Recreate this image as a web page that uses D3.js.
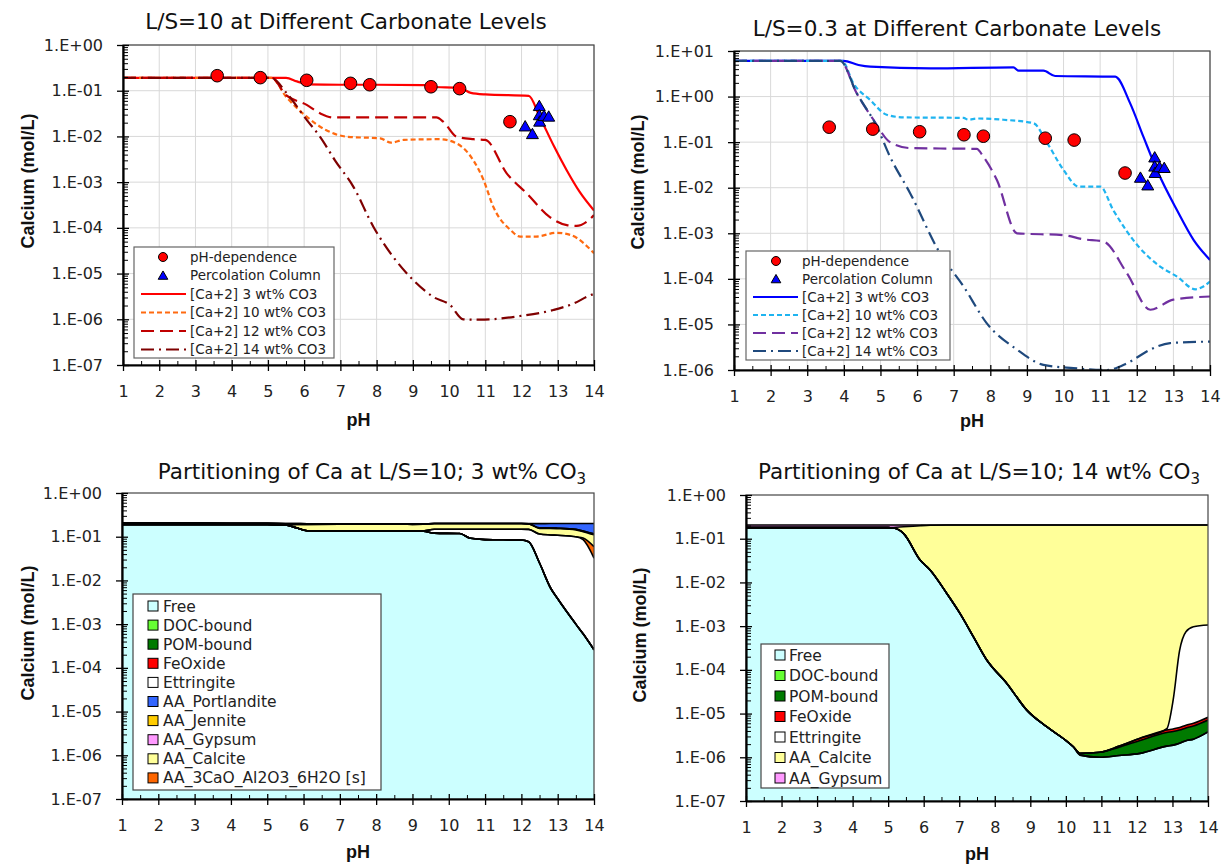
<!DOCTYPE html>
<html><head><meta charset="utf-8">
<script src="https://cdn.jsdelivr.net/npm/d3@7"></script>
<style>body{margin:0;background:#fff} svg{display:block}</style>
</head><body>
<svg id="c" width="1224" height="865"></svg>
<script>
// ---------------- tick labels ----------------
const phTicks = [1,2,3,4,5,6,7,8,9,10,11,12,13,14];
const phTickLabels = ["1","2","3","4","5","6","7","8","9","10","11","12","13","14"];
const yTicksA = [1e-7,1e-6,1e-5,1e-4,1e-3,1e-2,1e-1,1];
const yTickLabelsA = ["1.E-07","1.E-06","1.E-05","1.E-04","1.E-03","1.E-02","1.E-01","1.E+00"];
const yTicksB = [1e-6,1e-5,1e-4,1e-3,1e-2,1e-1,1,10];
const yTickLabelsB = ["1.E-06","1.E-05","1.E-04","1.E-03","1.E-02","1.E-01","1.E+00","1.E+01"];

// ---------------- measured points (both top panels) ----------------
const phDep_pH = [3.60, 4.79, 6.07, 7.28, 7.81, 9.50, 10.29, 11.68];
const phDep_Ca = [0.213, 0.193, 0.169, 0.145, 0.135, 0.122, 0.111, 0.021];
const perc_pH = [12.10, 12.30, 12.49, 12.49, 12.50, 12.62, 12.75];
const perc_Ca = [0.0165, 0.0112, 0.046, 0.029, 0.021, 0.028, 0.027];

// ---------------- L/S = 10 model curves ----------------
const ls10_pH_3  = [1, 5.5, 5.8, 6.1, 7, 8, 9.3, 9.5, 10.3, 10.6, 11, 12.2, 12.5, 12.9, 13.25, 13.6, 14];
const ls10_Ca_3  = [0.19, 0.19, 0.16, 0.138, 0.135, 0.135, 0.133, 0.122, 0.115, 0.09, 0.083, 0.077, 0.027, 0.006, 0.0018, 0.00062, 0.00024];
const ls10_pH_10 = [1, 5.1, 5.5, 6.07, 6.6, 7.2, 8.1, 8.4, 8.75, 9.75, 10.2, 10.67, 10.95, 11.22, 11.7, 11.96, 12.4, 12.97, 13.35, 14];
const ls10_Ca_10 = [0.19, 0.19, 0.074, 0.027, 0.0138, 0.0098, 0.0091, 0.0073, 0.0084, 0.0087, 0.0071, 0.003, 0.00112, 0.00029, 0.000089, 0.0000645, 0.0000645, 0.000078, 0.00007, 0.000028];
const ls10_pH_12 = [1, 5.1, 5.5, 6.07, 6.44, 6.8, 9.65, 9.84, 10.21, 10.67, 11.0, 11.59, 12.14, 12.79, 13.25, 13.52, 13.8, 14];
const ls10_Ca_12 = [0.19, 0.19, 0.08, 0.049, 0.032, 0.026, 0.026, 0.021, 0.0098, 0.0087, 0.0084, 0.00156, 0.00057, 0.00017, 0.000115, 0.00011, 0.000136, 0.00019];
const ls10_pH_14 = [1, 5.1, 5.52, 6.07, 6.44, 6.85, 7.36, 7.91, 8.46, 9.01, 9.56, 10.03, 10.39, 10.85, 11.96, 12.88, 13.43, 13.84, 14];
const ls10_Ca_14 = [0.19, 0.19, 0.0877, 0.023, 0.0098, 0.003, 0.00079, 0.000106, 0.000023, 0.0000072, 0.0000031, 0.00000205, 0.000001, 0.00000098, 0.00000118, 0.0000016, 0.0000022, 0.0000032, 0.0000036];

// ---------------- L/S = 0.3 model curves ----------------
const ls03_pH_3  = [1, 3.99, 4.4, 4.72, 6.36, 8.63, 8.77, 9.45, 9.77, 11.41, 11.82, 12.18, 12.55, 13.1, 13.55, 14];
const ls03_Ca_3  = [6.1, 6.1, 4.93, 4.53, 4.17, 4.39, 3.7, 3.7, 2.83, 2.74, 0.71, 0.132, 0.0245, 0.0032, 0.00072, 0.00026];
const ls03_pH_10 = [1, 3.95, 4.26, 4.72, 5.17, 5.63, 7.27, 7.4, 7.63, 8.36, 9.18, 9.54, 10.0, 10.41, 11.0, 11.36, 12.05, 12.64, 13.1, 13.6, 13.82, 14];
const ls03_Ca_10 = [6.1, 6.1, 1.95, 0.84, 0.40, 0.35, 0.34, 0.31, 0.33, 0.31, 0.26, 0.10, 0.0245, 0.0106, 0.0106, 0.0032, 0.00051, 0.000186, 0.000112, 0.000059, 0.000068, 0.000087];
const ls03_pH_12 = [1, 3.9, 4.35, 4.81, 5.26, 5.81, 7.63, 7.81, 8.18, 8.73, 10.0, 10.54, 11.09, 11.73, 12.37, 13.0, 14];
const ls03_Ca_12 = [6.1, 6.1, 1.18, 0.31, 0.10, 0.074, 0.071, 0.048, 0.0147, 0.001, 0.00091, 0.00074, 0.00066, 0.000133, 0.000021, 0.000035, 0.000041];
const ls03_pH_14 = [1, 3.9, 4.35, 4.9, 5.26, 5.81, 6.63, 7.27, 7.9, 8.73, 9.45, 10.27, 11.18, 11.73, 12.37, 12.91, 14];
const ls03_Ca_14 = [6.1, 6.1, 1.2, 0.22, 0.048, 0.0076, 0.00036, 0.000068, 0.0000107, 0.0000028, 0.0000013, 0.0000011, 0.000001, 0.0000014, 0.0000028, 0.0000039, 0.0000042];

// ---------------- Partitioning, 3 wt% CO3 ----------------
const p3_pH          = [1, 2, 3, 4, 5, 5.5, 5.8, 6.1, 7, 8, 9, 9.3, 9.6, 10.3, 10.6, 11, 11.5, 12, 12.2, 12.5, 12.8, 13, 13.5, 13.7, 14];
const p3_Free        = [0.192,0.192,0.192,0.191,0.19,0.185,0.16,0.137,0.135,0.135,0.134,0.133,0.121,0.118,0.092,0.086,0.085,0.084,0.077,0.025,0.0068,0.0038,0.001,0.0006,0.00026];
const p3_DOC         = [0,0,0,0,0,0,0,0,0,0,0,0,0,0,0,0,0,0,0,0,0,0,0,0,0];
const p3_POM         = [0,0,0,0,0,0,0,0,0,0,0,0,0,0,0,0,0,0,0,0,0,0,0,0,0];
const p3_FeOxide     = [0,0,0,0,0,0,0,0,0,0,0,0,0,0,0,0,0,0,0,0,0,0,0,0,0];
const p3_Ettringite  = [0,0,0,0,0,0,0,0,0,0,0,0.002,0.027,0.03,0.056,0.062,0.063,0.064,0.07,0.09,0.103,0.104,0.099,0.085,0.032];
const p3_3CaO        = [0,0,0,0,0,0,0,0,0,0,0,0,0,0,0,0,0,0,0,0,0,0,0,0.008,0.027];
const p3_Calcite     = [0,0,0,0,0,0.003,0.03,0.055,0.058,0.058,0.058,0.058,0.052,0.052,0.052,0.052,0.052,0.052,0.05,0.04,0.045,0.045,0.043,0.037,0.051];
const p3_Jennite     = [0,0,0,0,0,0,0,0,0,0,0,0,0,0,0,0,0,0,0,0.004,0.004,0.004,0.005,0.005,0.006];
const p3_Gypsum      = [0.015,0.015,0.015,0.015,0.015,0.013,0.01,0.006,0.005,0.005,0.005,0.004,0,0,0,0,0,0,0,0,0,0,0,0,0];
const p3_Portlandite = [0,0,0,0,0,0,0,0,0,0,0,0,0,0,0,0,0,0,0.003,0.04,0.041,0.043,0.052,0.065,0.084];

// ---------------- Partitioning, 14 wt% CO3 ----------------
const p4_pH         = [1, 2, 3, 4, 5, 5.15, 5.43, 5.9, 6.18, 6.65, 7.02, 7.4, 7.77, 8.34, 8.9, 9.46, 9.98, 10.21, 10.4, 10.96, 11.5, 12.09, 12.84, 13.02, 13.2, 13.38, 13.59, 14];
const p4_Free       = [0.179,0.179,0.179,0.179,0.179,0.176,0.133,0.0326,0.0192,0.0056,0.00196,0.00057,0.00017,0.000049,0.000012,0.000005,0.0000025,0.00000174,0.00000112,0.000001,0.0000011,0.00000123,0.0000018,0.0000019,0.0000021,0.0000024,0.0000026,0.0000038];
const p4_DOC        = [0,0,0,0,0,0,0,0,0,0,0,0,0,0,0,0,0,0,0,0,0,0,0,0,0,0,0,0];
const p4_POM        = [0,0,0,0,0,0,0,0,0,0,0,0,0,0,0,0,0,0,0.00000011,0.0000003,0.0000006,0.0000012,0.0000019,0.000002,0.0000021,0.0000023,0.0000026,0.0000033];
const p4_FeOxide    = [0,0,0,0,0,0,0,0,0,0,0,0,0,0,0,0,0,0,0,0,0.0000001,0.0000003,0.0000005,0.00000055,0.0000006,0.0000007,0.0000008,0.0000011];
const p4_Ettringite = [0,0,0,0,0,0,0,0,0,0,0,0,0,0,0,0,0,0,0,0,0,0,0.0000003,0.000016,0.00027,0.00074,0.00096,0.00105];
const p4_Calcite    = [0,0,0,0,0,0.005,0.055,0.166,0.184,0.2,0.204,0.205,0.206,0.206,0.206,0.206,0.206,0.206,0.206,0.206,0.206,0.206,0.206,0.206,0.205,0.205,0.205,0.205];
const p4_Gypsum     = [0.027,0.027,0.027,0.027,0.027,0.025,0.018,0.007,0.003,0.001,0,0,0,0,0,0,0,0,0,0,0,0,0,0,0,0,0,0];

// ---------------- helpers ----------------
const svg = d3.select("#c");
const FONT = "'DejaVu Sans', Verdana, sans-serif";
const BOLD = "'Liberation Sans', Arial, sans-serif";
let clipId = 0;

function frame(cfg) {
  const x = d3.scaleLinear().domain([1, 14]).range([cfg.x0, cfg.x1]);
  const y = d3.scaleLog().domain(cfg.yDom).range([cfg.yBot, cfg.yTop]).clamp(true);
  const g = svg.append("g");
  g.append("rect").attr("x", cfg.x0).attr("y", cfg.yTop)
    .attr("width", cfg.x1 - cfg.x0).attr("height", cfg.yBot - cfg.yTop).attr("fill", "#fff");
  if (cfg.grid) {
    g.append("g").selectAll("line").data(phTicks.slice(1)).join("line")
      .attr("x1", d => x(d)).attr("x2", d => x(d)).attr("y1", cfg.yTop).attr("y2", cfg.yBot)
      .attr("stroke", "#d9d9d9").attr("stroke-width", 1);
    g.append("g").selectAll("line").data(cfg.yVals.slice(1)).join("line")
      .attr("x1", cfg.x0).attr("x2", cfg.x1).attr("y1", d => y(d)).attr("y2", d => y(d))
      .attr("stroke", "#d9d9d9").attr("stroke-width", 1);
  }
  const id = "clip" + (clipId++);
  svg.append("clipPath").attr("id", id).append("rect")
    .attr("x", cfg.x0).attr("y", cfg.yTop).attr("width", cfg.x1 - cfg.x0).attr("height", cfg.yBot - cfg.yTop);
  const content = svg.append("g").attr("clip-path", `url(#${id})`);
  return { x, y, g, content };
}

function axes(cfg, x, y) {
  const g = svg.append("g");
  g.append("rect").attr("x", cfg.x0).attr("y", cfg.yTop)
    .attr("width", cfg.x1 - cfg.x0).attr("height", cfg.yBot - cfg.yTop)
    .attr("fill", "none").attr("stroke", "#444").attr("stroke-width", 1.2);
  // minor y ticks
  const minor = [];
  for (let e = Math.round(Math.log10(cfg.yDom[0])); e < Math.round(Math.log10(cfg.yDom[1])); e++)
    for (let k = 2; k <= 9; k++) minor.push(k * Math.pow(10, e));
  g.append("g").attr("transform", `translate(${cfg.x0},0)`)
    .call(d3.axisRight(y).tickValues(minor).tickSize(5).tickFormat(""))
    .call(s => s.select(".domain").remove())
    .selectAll("line").attr("stroke", "#000").attr("stroke-width", 1);
  // major y ticks + labels
  const ya = g.append("g").attr("transform", `translate(${cfg.x0},0)`)
    .call(d3.axisLeft(y).tickValues(cfg.yVals).tickFormat((d, i) => cfg.yLabels[i]).tickSize(6).tickSizeOuter(0).tickPadding(14));
  ya.select(".domain").attr("stroke-width", 2.2);
  ya.selectAll(".tick line").attr("x1", 6).attr("stroke-width", 1.3);
  ya.selectAll("text").attr("font-family", FONT).attr("font-size", 16).attr("fill", "#222");
  // minor x ticks
  const minorX = phTicks.slice(0, -1).map(d => d + 0.5);
  g.append("g").attr("transform", `translate(0,${cfg.yBot})`)
    .call(d3.axisBottom(x).tickValues(minorX).tickSize(-4).tickFormat(""))
    .call(s => s.select(".domain").remove())
    .selectAll("line").attr("stroke", "#000").attr("stroke-width", 1);
  const xa = g.append("g").attr("transform", `translate(0,${cfg.yBot})`)
    .call(d3.axisBottom(x).tickValues(phTicks).tickFormat((d, i) => phTickLabels[i]).tickSize(6).tickSizeOuter(0));
  xa.select(".domain").attr("stroke-width", 2.2);
  xa.selectAll(".tick line").attr("y1", -5).attr("stroke-width", 1.3);
  xa.selectAll("text").attr("y", 32).attr("dy", 0).attr("font-family", FONT).attr("font-size", 16).attr("fill", "#222");
  // axis titles
  svg.append("text").attr("x", (cfg.x0 + cfg.x1) / 2).attr("y", cfg.yBot + cfg.pHdy)
    .attr("text-anchor", "middle").attr("font-family", BOLD).attr("font-weight", "bold")
    .attr("font-size", 18).attr("fill", "#111").text("pH");
  svg.append("text").attr("transform", `translate(${cfg.yTitleX},${cfg.yTitleY}) rotate(-90)`)
    .attr("text-anchor", "middle").attr("dy", "0.35em").attr("font-family", BOLD).attr("font-weight", "bold")
    .attr("font-size", 18).attr("fill", "#111").text("Calcium (mol/L)");
  // title
  const t = svg.append("text").attr("x", cfg.titleX).attr("y", cfg.titleY).attr("text-anchor", "middle")
    .attr("font-family", FONT).attr("font-size", 21.5).attr("fill", "#111");
  t.append("tspan").text(cfg.title);
  if (cfg.titleSub) t.append("tspan").attr("dy", 5).attr("font-size", 15).text(cfg.titleSub);
}

// ---------------- line panels ----------------
function linePanel(cfg, series, legendCfg) {
  const { x, y, content } = frame(cfg);
  const line = d3.line().x(d => x(d[0])).y(d => y(d[1])).curve(d3.curveMonotoneX);
  series.forEach(s => {
    content.append("path").datum(d3.zip(s.ph, s.ca)).attr("d", line)
      .attr("fill", "none").attr("stroke", s.color).attr("stroke-width", s.w)
      .attr("stroke-dasharray", s.dash);
  });
  content.append("g").selectAll("circle").data(d3.zip(phDep_pH, phDep_Ca)).join("circle")
    .attr("cx", d => x(d[0])).attr("cy", d => y(d[1])).attr("r", 6.3)
    .attr("fill", "#ff0000").attr("stroke", "#000").attr("stroke-width", 1);
  const tri = d3.symbol().type(d3.symbolTriangle).size(62);
  content.append("g").selectAll("path").data(d3.zip(perc_pH, perc_Ca)).join("path")
    .attr("transform", d => `translate(${x(d[0])},${y(d[1]) + 1})`).attr("d", tri)
    .attr("fill", "#0000ff").attr("stroke", "#000").attr("stroke-width", 1);
  axes(cfg, x, y);
  // legend
  const L = legendCfg;
  const lg = svg.append("g");
  lg.append("rect").attr("x", L.x).attr("y", L.y).attr("width", L.w).attr("height", L.h)
    .attr("fill", "#fff").attr("stroke", "#666").attr("stroke-width", 1.2);
  const items = [{ name: "pH-dependence", kind: "circle" }, { name: "Percolation Column", kind: "tri" }]
    .concat(series.map(s => ({ name: s.name, kind: "line", s })));
  items.forEach((it, i) => {
    const cy = L.row0 + i * L.step;
    if (it.kind === "circle") lg.append("circle").attr("cx", L.mx).attr("cy", cy).attr("r", 4.5)
      .attr("fill", "#ff0000").attr("stroke", "#000");
    else if (it.kind === "tri") lg.append("path").attr("transform", `translate(${L.mx},${cy + 1})`)
      .attr("d", d3.symbol().type(d3.symbolTriangle).size(40)).attr("fill", "#0000ff").attr("stroke", "#000");
    else lg.append("line").attr("x1", L.lx0).attr("x2", L.lx1).attr("y1", cy).attr("y2", cy)
      .attr("stroke", it.s.color).attr("stroke-width", it.s.w).attr("stroke-dasharray", it.s.dash);
    lg.append("text").attr("x", L.tx).attr("y", cy).attr("dy", "0.36em")
      .attr("font-family", FONT).attr("font-size", 13.5).attr("fill", "#222").text(it.name);
  });
}

const ls10Series = [
  { name: "[Ca+2] 3 wt% CO3",  ph: ls10_pH_3,  ca: ls10_Ca_3,  color: "#ff0000", w: 2.2, dash: null },
  { name: "[Ca+2] 10 wt% CO3", ph: ls10_pH_10, ca: ls10_Ca_10, color: "#ff6a10", w: 2.2, dash: "5,3" },
  { name: "[Ca+2] 12 wt% CO3", ph: ls10_pH_12, ca: ls10_Ca_12, color: "#c00000", w: 2.2, dash: "13,6" },
  { name: "[Ca+2] 14 wt% CO3", ph: ls10_pH_14, ca: ls10_Ca_14, color: "#7f0000", w: 2.2, dash: "13,5,2,5" }
];
const ls03Series = [
  { name: "[Ca+2] 3 wt% CO3",  ph: ls03_pH_3,  ca: ls03_Ca_3,  color: "#0000ff", w: 2.2, dash: null },
  { name: "[Ca+2] 10 wt% CO3", ph: ls03_pH_10, ca: ls03_Ca_10, color: "#1fb4f0", w: 2.2, dash: "5,3" },
  { name: "[Ca+2] 12 wt% CO3", ph: ls03_pH_12, ca: ls03_Ca_12, color: "#7030a0", w: 2.2, dash: "13,6" },
  { name: "[Ca+2] 14 wt% CO3", ph: ls03_pH_14, ca: ls03_Ca_14, color: "#1f497d", w: 2.2, dash: "13,5,2,5" }
];

linePanel({ x0: 123, x1: 594, yTop: 45, yBot: 365, yDom: [1e-7, 1], yVals: yTicksA, yLabels: yTickLabelsA,
  grid: true, title: "L/S=10 at Different Carbonate Levels", titleX: 346, titleY: 29,
  pHdy: 61, yTitleX: 28, yTitleY: 181 }, ls10Series,
  { x: 134, y: 247, w: 200, h: 111, row0: 257, step: 18.5, mx: 163, lx0: 141, lx1: 186, tx: 190 });

linePanel({ x0: 734, x1: 1210, yTop: 51, yBot: 370, yDom: [1e-6, 10], yVals: yTicksB, yLabels: yTickLabelsB,
  grid: true, title: "L/S=0.3 at Different Carbonate Levels", titleX: 957, titleY: 36,
  pHdy: 57, yTitleX: 638, yTitleY: 182 }, ls03Series,
  { x: 746, y: 251, w: 204, h: 109, row0: 261, step: 18, mx: 776, lx0: 753, lx1: 798, tx: 802 });

// ---------------- area panels ----------------
const colors = {
  Free: "#ccffff", DOC: "#66ff33", POM: "#007a00", FeOxide: "#ff0000", Ettringite: "#ffffff",
  Portlandite: "#3366ff", Jennite: "#ffcc00", Gypsum: "#ff99ff", Calcite: "#ffff99", CaAl: "#ff6600"
};

function areaPanel(cfg, pH, layers, legendItems, L) {
  const { x, y, content } = frame(cfg);
  const rows = pH.map((p, i) => { const r = { pH: p }; layers.forEach(l => r[l.key] = l.vals[i]); return r; });
  const stack = d3.stack().keys(layers.map(l => l.key)).order(d3.stackOrderNone).offset(d3.stackOffsetNone);
  const st = stack(rows);
  const fy = v => y(Math.max(v, 1e-12));
  const area = d3.area().x(d => x(d.data.pH)).y0(d => fy(d[0])).y1(d => fy(d[1])).curve(d3.curveMonotoneX);
  const top = d3.line().x(d => x(d.data.pH)).y(d => fy(d[1])).curve(d3.curveMonotoneX);
  st.forEach(s => content.append("path").datum(s).attr("d", area).attr("fill", colors[s.key]).attr("stroke", "none"));
  st.forEach(s => content.append("path").datum(s).attr("d", top).attr("fill", "none")
    .attr("stroke", "#000").attr("stroke-width", 1.6));
  axes(cfg, x, y);
  const lg = svg.append("g");
  lg.append("rect").attr("x", L.x).attr("y", L.y).attr("width", L.w).attr("height", L.h)
    .attr("fill", "#fff").attr("stroke", "#444").attr("stroke-width", 1.2);
  legendItems.forEach((it, i) => {
    const cy = L.row0 + i * L.step;
    lg.append("rect").attr("x", L.sx).attr("y", cy - 5).attr("width", 10).attr("height", 10)
      .attr("fill", colors[it.key]).attr("stroke", "#000").attr("stroke-width", 1);
    lg.append("text").attr("x", L.tx).attr("y", cy).attr("dy", "0.36em")
      .attr("font-family", FONT).attr("font-size", 15.5).attr("fill", "#222").text(it.name);
  });
}

areaPanel({ x0: 122, x1: 594, yTop: 493, yBot: 799, yDom: [1e-7, 1], yVals: yTicksA, yLabels: yTickLabelsA,
  grid: false, title: "Partitioning of Ca at L/S=10; 3 wt% CO", titleSub: "3", titleX: 372, titleY: 479,
  pHdy: 59, yTitleX: 28, yTitleY: 633 }, p3_pH,
  [{ key: "Free", vals: p3_Free }, { key: "DOC", vals: p3_DOC }, { key: "POM", vals: p3_POM },
   { key: "FeOxide", vals: p3_FeOxide }, { key: "Ettringite", vals: p3_Ettringite }, { key: "CaAl", vals: p3_3CaO },
   { key: "Calcite", vals: p3_Calcite }, { key: "Jennite", vals: p3_Jennite }, { key: "Gypsum", vals: p3_Gypsum },
   { key: "Portlandite", vals: p3_Portlandite }],
  [{ key: "Free", name: "Free" }, { key: "DOC", name: "DOC-bound" }, { key: "POM", name: "POM-bound" },
   { key: "FeOxide", name: "FeOxide" }, { key: "Ettringite", name: "Ettringite" }, { key: "Portlandite", name: "AA_Portlandite" },
   { key: "Jennite", name: "AA_Jennite" }, { key: "Gypsum", name: "AA_Gypsum" }, { key: "Calcite", name: "AA_Calcite" },
   { key: "CaAl", name: "AA_3CaO_Al2O3_6H2O [s]" }],
  { x: 133, y: 594, w: 248, h: 196, row0: 606, step: 19.1, sx: 148, tx: 163 });

areaPanel({ x0: 746, x1: 1208, yTop: 495, yBot: 801, yDom: [1e-7, 1], yVals: yTicksA, yLabels: yTickLabelsA,
  grid: false, title: "Partitioning of Ca at L/S=10; 14 wt% CO", titleSub: "3", titleX: 979, titleY: 479,
  pHdy: 59, yTitleX: 640, yTitleY: 635 }, p4_pH,
  [{ key: "Free", vals: p4_Free }, { key: "DOC", vals: p4_DOC }, { key: "POM", vals: p4_POM },
   { key: "FeOxide", vals: p4_FeOxide }, { key: "Ettringite", vals: p4_Ettringite },
   { key: "Calcite", vals: p4_Calcite }, { key: "Gypsum", vals: p4_Gypsum }],
  [{ key: "Free", name: "Free" }, { key: "DOC", name: "DOC-bound" }, { key: "POM", name: "POM-bound" },
   { key: "FeOxide", name: "FeOxide" }, { key: "Ettringite", name: "Ettringite" }, { key: "Calcite", name: "AA_Calcite" },
   { key: "Gypsum", name: "AA_Gypsum" }],
  { x: 761, y: 644, w: 128, h: 144, row0: 655, step: 20.5, sx: 775, tx: 789 });
</script>
</body></html>
